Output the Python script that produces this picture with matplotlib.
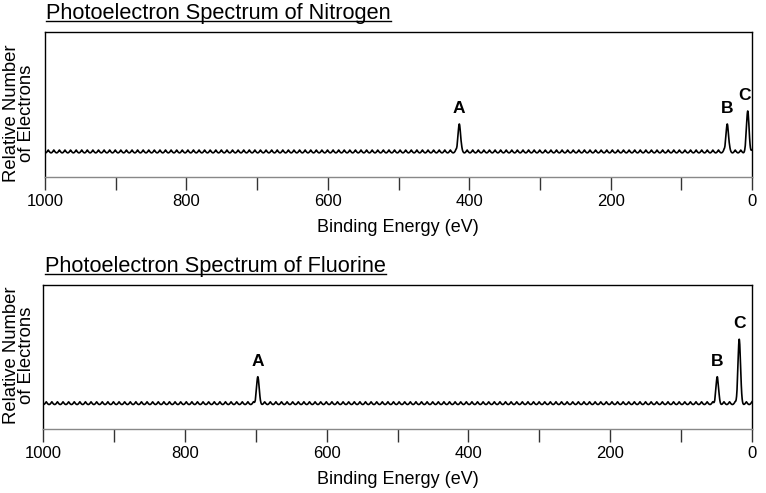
import numpy as np
import matplotlib
matplotlib.use("Agg")
import matplotlib.pyplot as plt
from matplotlib.lines import Line2D
from matplotlib.ticker import MultipleLocator

plt.rcParams['font.family'] = ['Liberation Sans', 'DejaVu Sans']

# ---- data ----
titles = ["Photoelectron Spectrum of Nitrogen", "Photoelectron Spectrum of Fluorine"]
peak_labels = ["A", "B", "C"]
n_energies = [414, 35, 6]       # binding energy (eV)
n_heights = [2, 2, 3]           # relative number of electrons
f_energies = [697, 49, 18]
f_heights = [2, 2, 5]
xticks_major = [1000, 800, 600, 400, 200, 0]
xtick_labels = ["1000", "800", "600", "400", "200", "0"]
ylabel = "Relative Number\nof Electrons"
xlabel = "Binding Energy (eV)"

# ---- style ----
W, H = 766, 493
RIPPLE_AMP = 0.22
RIPPLE_PERIOD = 7.9
PEAK_SIGMA = 1.8


def spectrum(energies, heights):
    x = np.linspace(0, 1000, 8001)
    y = -RIPPLE_AMP * np.abs(np.sin(np.pi * x / RIPPLE_PERIOD))
    for e, h in zip(energies, heights):
        g = np.exp(-(x - e) ** 2 / (2 * PEAK_SIGMA ** 2))
        y = y * (1 - g) + h * g
    return x, y


fig = plt.figure(figsize=(W / 100, H / 100), dpi=100)

def px(x0, y0, x1, y1):
    return [x0 / W, 1 - y1 / H, (x1 - x0) / W, (y1 - y0) / H]

panels = [
    dict(rect=px(45, 32, 752, 177), title_xy=(46, 19), ylab_y=113, xlab_y=228,
         energies=n_energies, heights=n_heights, ylim=(-2.08, 9.08),
         label_dx=[0, 0, -2]),
    dict(rect=px(43, 285, 752, 429), title_xy=(45, 272), ylab_y=355, xlab_y=479,
         energies=f_energies, heights=f_heights, ylim=(-2.18, 9.34),
         label_dx=[0, 0, 0]),
]

fig.canvas.draw()
renderer = fig.canvas.get_renderer()

for i, p in enumerate(panels):
    ax = fig.add_axes(p['rect'])
    x, y = spectrum(p['energies'], p['heights'])
    ax.plot(x, y, color='black', lw=1.2, solid_joinstyle='round')
    ax.set_xlim(1000, 0)
    ax.set_ylim(*p['ylim'])
    ax.set_yticks([])
    ax.set_xticks(xticks_major)
    ax.set_xticklabels(xtick_labels)
    ax.xaxis.set_minor_locator(MultipleLocator(100))
    ax.tick_params(axis='x', which='both', direction='out', length=9, width=1,
                   color='#333333', labelsize=12, pad=3)
    for s in ['top', 'left', 'right']:
        ax.spines[s].set_color('black')
        ax.spines[s].set_linewidth(1)
    ax.spines['bottom'].set_color('#888888')
    ax.spines['bottom'].set_linewidth(1)

    for lab, e, h, dx in zip(peak_labels, p['energies'], p['heights'], p['label_dx']):
        ax.annotate(lab, xy=(e, h), xytext=(dx, 11), textcoords='offset points',
                    ha='center', va='center', fontsize=12.5, fontweight='bold')

    # title with underline
    tx, ty = p['title_xy']
    t = fig.text(tx / W, 1 - ty / H, titles[i], fontsize=15.7, ha='left',
                 va='baseline')
    bb = t.get_window_extent(renderer=renderer)
    uy = 1 - (ty + 1.8) / H
    fig.add_artist(Line2D([bb.x0 / W, bb.x1 / W], [uy, uy],
                          transform=fig.transFigure, color='black', lw=1))

    fig.text(19 / W, 1 - p['ylab_y'] / H, ylabel, rotation=90, ha='center',
             va='center', multialignment='center', fontsize=13.3, linespacing=0.92)
    fig.text(398 / W, 1 - p['xlab_y'] / H, xlabel, ha='center', va='center',
             fontsize=13)

fig.savefig("out.png", dpi=100)
